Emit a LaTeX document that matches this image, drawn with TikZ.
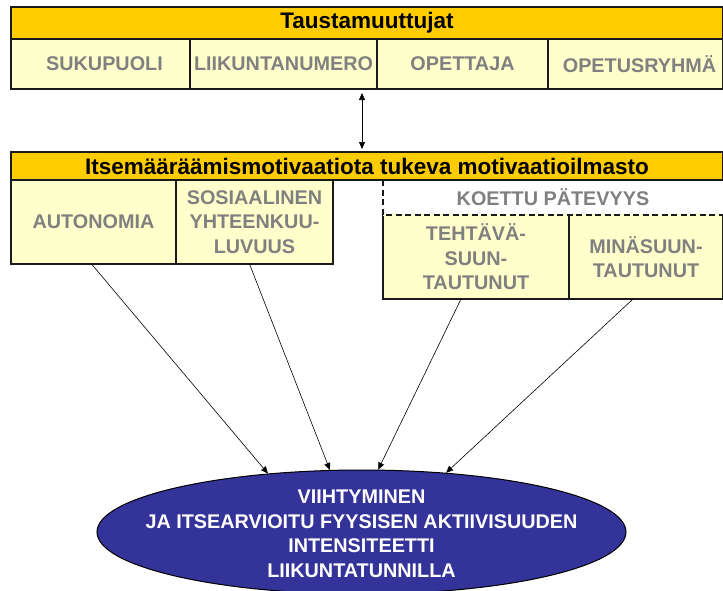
\documentclass[tikz,border=0pt]{standalone}
\usepackage{fontspec}
\setmainfont{Liberation Sans}
\usepackage{xcolor}
\usepackage{tikz}
\usetikzlibrary{shapes.geometric, arrows.meta, positioning}
\definecolor{bar}{HTML}{FFCC00}
\definecolor{cell}{HTML}{FFFFCC}
\definecolor{muted}{HTML}{808080}
\definecolor{deep}{HTML}{333399}
\definecolor{edge}{HTML}{1A1A1A}

\begin{document}
\begin{tikzpicture}[x=1pt, y=-1pt,
  headbar/.style={draw=edge, line width=1.3pt, fill=bar, inner sep=0pt, outer sep=0pt,
    anchor=north west, font=\bfseries\fontsize{22.5}{26}\selectfont},
  cellbox/.style={draw=edge, line width=1.3pt, fill=cell, inner sep=0pt, outer sep=0pt,
    align=center, text=muted, font=\bfseries\fontsize{19.8}{24.5}\selectfont},
  outcome/.style={ellipse, draw=black, line width=1pt, fill=deep, inner sep=0pt,
    minimum width=529, minimum height=124},
  arr/.style={-{Triangle[length=7pt,width=6pt]}, line width=0.6pt},
  dbl/.style={{Triangle[length=7pt,width=6pt]}-{Triangle[length=7pt,width=6pt]}, line width=0.6pt}]
  \useasboundingbox (0,0) rectangle (723,590);

  % taustamuuttujat
  \node[headbar, minimum width=712, minimum height=32] (tausta) at (11,7) {Taustamuuttujat};
  \node[cellbox, anchor=north west, minimum width=179, minimum height=50] (sukupuoli) at (tausta.south west) {\hspace*{8pt}SUKUPUOLI};
  \node[cellbox, right=0pt of sukupuoli, minimum width=187, minimum height=50] (numero) {LIIKUNTANUMERO};
  \node[cellbox, right=0pt of numero, minimum width=171, minimum height=50] (opettaja) {OPETTAJA};
  \node[cellbox, right=0pt of opettaja, minimum width=175, minimum height=50] (ryhma) {\hspace*{8pt}OPETUSRYHMÄ};

  % motivaatioilmasto
  \node[cellbox, draw=none, fill=white, anchor=north west, minimum width=340, minimum height=35] (koe) at (383,180) {KOETTU PÄTEVYYS};
  \node[headbar, minimum width=712, minimum height=28] (ilmasto) at (11,152) {Itsemääräämismotivaatiota tukeva motivaatioilmasto};
  \node[cellbox, anchor=north west, minimum width=165, minimum height=84] (autonomia) at (ilmasto.south west) {AUTONOMIA};
  \node[cellbox, right=0pt of autonomia, minimum width=157, minimum height=84] (sosiaalinen) {SOSIAALINEN\\YHTEENKUU-\\LUVUUS};
  \node[cellbox, anchor=north west, minimum width=186, minimum height=84] (tehtava) at (koe.south west) {TEHTÄVÄ-\\SUUN-\\TAUTUNUT};
  \node[cellbox, right=0pt of tehtava, minimum width=154, minimum height=84] (mina) {MINÄSUUN-\\TAUTUNUT};
  \draw[cell, line width=1.6pt] (tehtava.north west) -- (mina.north east);
  \draw[edge, line width=1.4pt, dash pattern=on 6pt off 3.5pt] (koe.north west) -- (koe.south west) -- (koe.south east);

  \draw[dbl, shorten <=4pt, shorten >=3pt] ([xshift=78.5pt]numero.south) -- ([xshift=78.5pt]numero.south |- ilmasto.north);

  % tulos
  \node[outcome] (target) at (361.5,532) {};
  \node[align=center, text=white, font=\bfseries\fontsize{19.8}{24.5}\selectfont] (targettext) at ([yshift=-2pt]target.center)
    {VIIHTYMINEN\\JA ITSEARVIOITU FYYSISEN AKTIIVISUUDEN\\INTENSITEETTI\\LIIKUNTATUNNILLA};

  \draw[arr] ([xshift=-2pt]autonomia.south) -- (target.148);
  \draw[arr] ([xshift=-5pt]sosiaalinen.south) -- (target.117);
  \draw[arr] ([xshift=-15pt]tehtava.south) -- (target.75);
  \draw[arr] ([xshift=-13pt]mina.south) -- (target.35);
\end{tikzpicture}
\end{document}
